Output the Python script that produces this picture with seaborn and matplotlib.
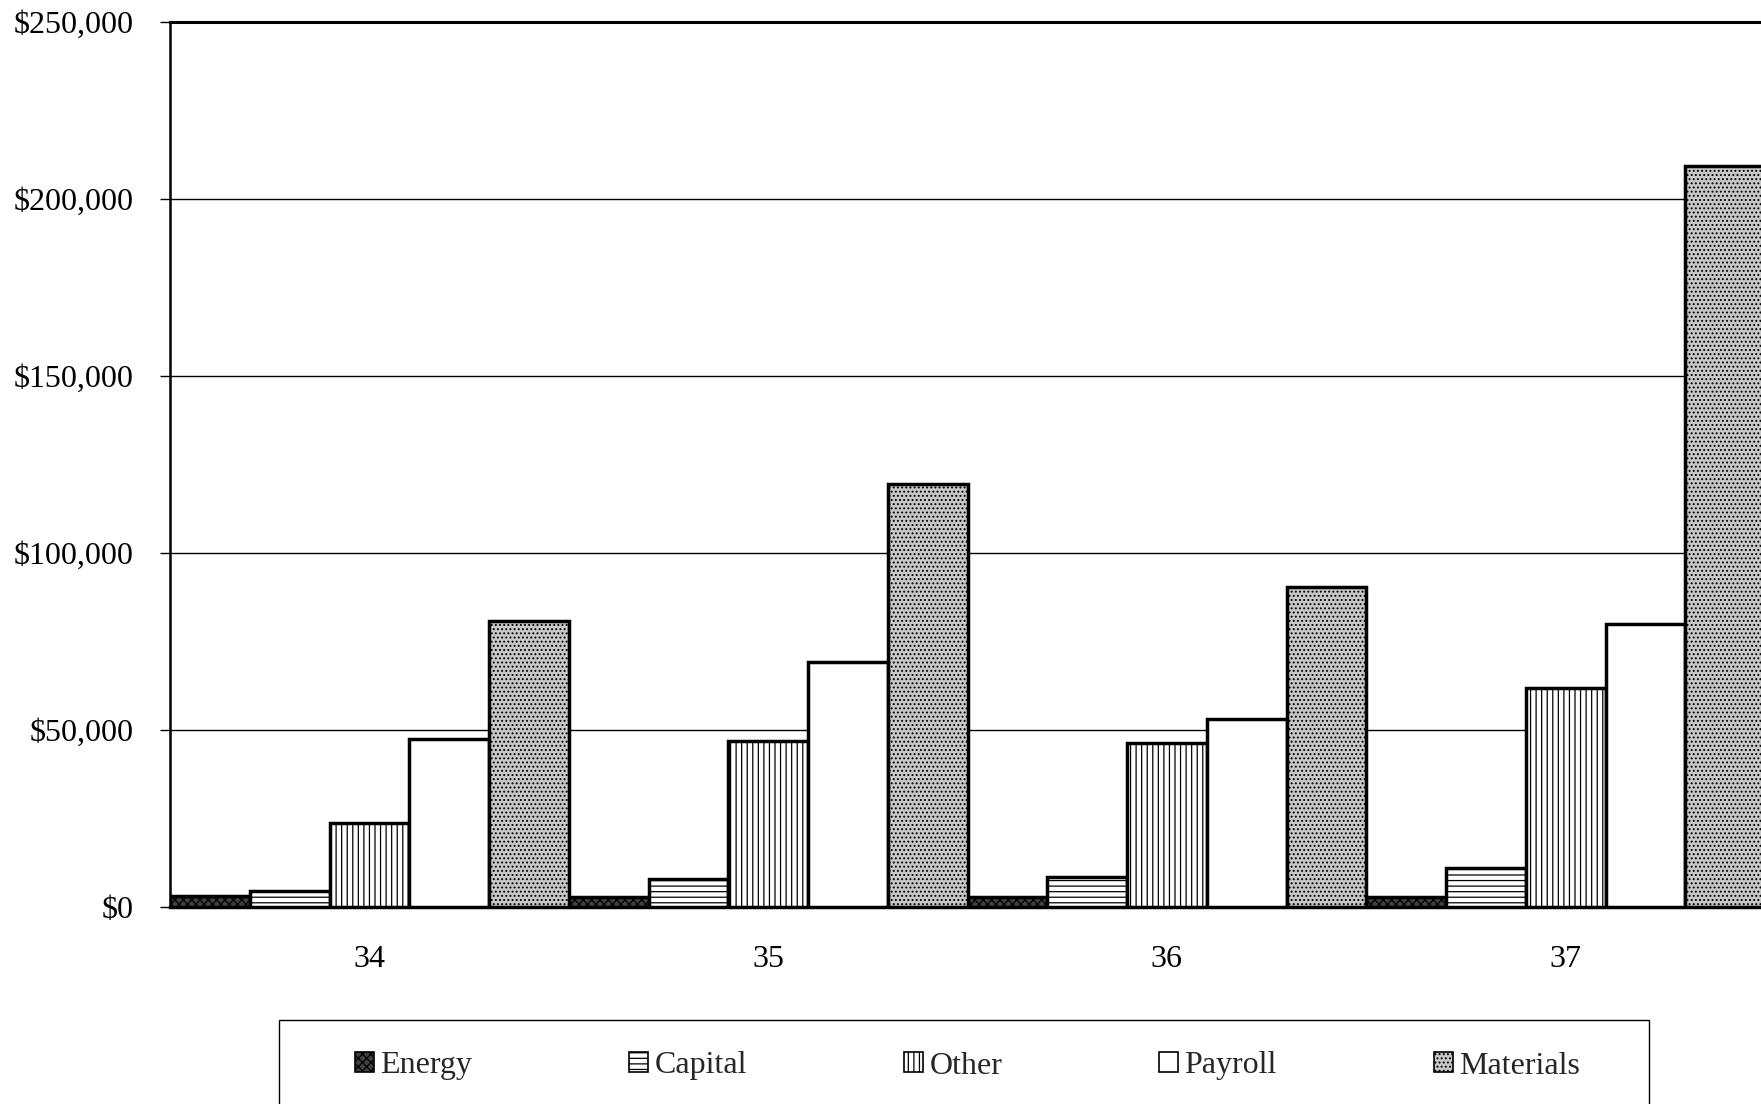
import matplotlib
matplotlib.use("Agg")
import matplotlib.pyplot as plt
from matplotlib.patches import Patch, Rectangle
from matplotlib.ticker import FuncFormatter, MultipleLocator
import seaborn as sns
import pandas as pd

categories = ["34", "35", "36", "37"]
series = ["Energy", "Capital", "Other", "Payroll", "Materials"]
energy = [3000, 2800, 2600, 2800]
capital = [4500, 7800, 8300, 10800]
other = [23600, 46800, 46200, 61800]
payroll = [47300, 69100, 52900, 79900]
materials = [80800, 119300, 90400, 209200]

values = {"Energy": energy, "Capital": capital, "Other": other,
          "Payroll": payroll, "Materials": materials}
rows = []
for s in series:
    for c, v in zip(categories, values[s]):
        rows.append({"category": c, "series": s, "value": v})
df = pd.DataFrame(rows)

sns.set_theme(style="white")
plt.rcParams["font.family"] = ["Liberation Serif", "DejaVu Serif"]
plt.rcParams["hatch.linewidth"] = 0.9
plt.rcParams["hatch.color"] = "black"

face = {"Energy": "#404040", "Capital": "white", "Other": "white",
        "Payroll": "white", "Materials": "#c8c8c8"}
hatch = {"Energy": "xxxx", "Capital": "---", "Other": "|||",
         "Payroll": "", "Materials": "...."}

W, H = 1761, 1104
fig = plt.figure(figsize=(W / 100, H / 100), dpi=100)
ax = fig.add_axes([170 / W, 1 - 906.5 / H, (1765 - 170) / W, (906.5 - 22) / H])

sns.barplot(data=df, x="category", y="value", hue="series", hue_order=series,
            order=categories, palette=face, saturation=1, width=1.0, gap=0,
            dodge=True, legend=False, edgecolor="black", linewidth=2.5,
            errorbar=None, ax=ax)

for cont, s in zip(ax.containers, series):
    for p in cont:
        p.set_hatch(hatch[s])
        p.set_zorder(3)

ax.set_xlim(-0.5, 3.5)
ax.set_ylim(0, 250000)
ax.yaxis.set_major_locator(MultipleLocator(50000))
ax.yaxis.set_major_formatter(FuncFormatter(lambda v, pos: f"${v:,.0f}"))
ax.grid(axis="y", color="black", linewidth=1.0, zorder=0)
ax.set_axisbelow(True)
ax.set_xlabel("")
ax.set_ylabel("")
ax.tick_params(axis="x", length=0, pad=28, labelsize=23, colors="black")
ax.tick_params(axis="y", length=7, width=1, pad=19, labelsize=23,
               colors="black", left=True)
for side, lw in [("left", 1.8), ("top", 2.2), ("bottom", 2.5)]:
    ax.spines[side].set_visible(True)
    ax.spines[side].set_color("black")
    ax.spines[side].set_linewidth(lw)
ax.spines["right"].set_visible(False)

handles = [Patch(facecolor=face[s], edgecolor="black", hatch=hatch[s],
                 linewidth=1.2) for s in series]
fig.legend(handles, series, loc="center left",
           bbox_to_anchor=(355 / W, 1 - 1066 / H, (1580 - 355) / W, 0),
           mode="expand", ncol=5, frameon=False, borderpad=0,
           borderaxespad=0, handlelength=0.6, handleheight=0.6,
           handletextpad=0.2, fontsize=23)
fig.patches.append(Rectangle((279 / W, -0.05), (1649 - 279) / W,
                             0.05 + 1 - 1020 / H, transform=fig.transFigure,
                             fill=False, edgecolor="black", linewidth=1.0))

fig.savefig("out.png", dpi=100)
